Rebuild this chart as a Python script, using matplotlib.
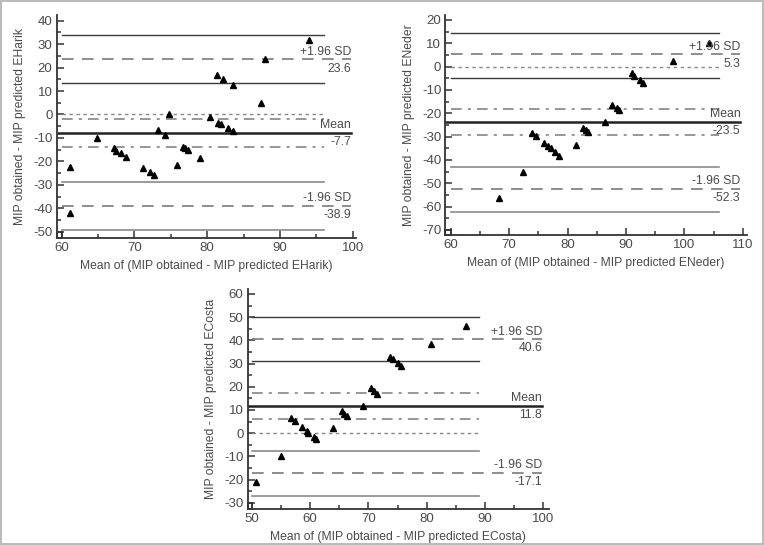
import matplotlib
matplotlib.use('Agg')
import matplotlib.pyplot as plt
from matplotlib.patches import Rectangle
from matplotlib.ticker import MultipleLocator

plt.rcParams['font.family'] = ['Liberation Sans', 'DejaVu Sans']
plt.rcParams['axes.unicode_minus'] = False

W, H = 764, 545

# --- EHarik ---
harik_x = [61.1, 61.1, 64.9, 67.2, 67.5, 68.2, 68.8, 71.2, 72.2, 72.7, 73.2, 74.2,
           74.7, 75.8, 76.7, 77.0, 77.3, 79.0, 80.4, 81.3, 81.5, 81.9, 82.2, 82.8,
           83.5, 83.6, 87.4, 88.0, 94.0]
harik_y = [-22.3, -42.1, -10.2, -14.3, -15.5, -16.5, -18.2, -22.7, -24.5, -25.8, -6.6, -8.7,
           0.4, -21.7, -13.8, -14.4, -15.1, -18.4, -1.2, 17.0, -3.5, -3.9, 15.3, -5.8,
           -7.0, 12.5, 5.0, 23.5, 31.7]
harik_stats = {'mean': -7.7, 'hi': 23.6, 'lo': -38.9}
harik_mean_ci = (-13.9, -1.9)
harik_hi_ci = (13.3, 33.9)
harik_lo_ci = (-49.3, -28.8)

# --- ENeder ---
neder_x = [68.2, 72.3, 73.9, 74.6, 76.0, 76.7, 77.1, 77.9, 78.5, 81.4, 82.7, 83.1,
           83.5, 86.5, 87.6, 88.4, 88.8, 91.0, 91.4, 92.4, 93.0, 98.1, 104.3]
neder_y = [-56.4, -45.0, -28.4, -29.8, -32.7, -34.1, -34.8, -36.5, -38.1, -33.7, -26.3, -27.3,
           -28.0, -23.7, -16.6, -17.6, -18.4, -2.8, -3.8, -5.7, -6.8, 2.6, 10.3]
neder_stats = {'mean': -23.5, 'hi': 5.3, 'lo': -52.3}
neder_mean_ci = (-29.4, -18.2)
neder_hi_ci = (-4.9, 14.3)
neder_lo_ci = (-62.2, -43.2)

# --- ECosta ---
costa_x = [50.7, 55.0, 56.7, 57.4, 58.7, 59.4, 59.7, 60.7, 61.1, 64.0, 65.4, 65.9,
           66.3, 69.0, 70.4, 71.0, 71.4, 73.7, 74.2, 75.1, 75.6, 80.7, 86.8]
costa_y = [-21.2, -9.9, 6.7, 5.4, 2.5, 1.0, 0.2, -1.6, -2.4, 2.1, 9.4, 8.2,
           7.4, 11.8, 19.3, 18.0, 17.0, 33.0, 32.0, 30.1, 29.0, 38.6, 46.4]
costa_stats = {'mean': 11.8, 'hi': 40.6, 'lo': -17.1}
costa_mean_ci = (5.9, 17.1)
costa_hi_ci = (31.1, 50.0)
costa_lo_ci = (-27.0, -7.7)

TXT = '#4a4a4a'
GRAY = '#7a7a7a'


def place(fig, xt, yt, xlim, ylim):
    # two known tick pixel positions per axis -> axes rectangle
    (px0, v0), (px1, v1) = xt
    sx = (px1 - px0) / (v1 - v0)
    left = px0 + (xlim[0] - v0) * sx
    right = px0 + (xlim[1] - v0) * sx
    (py0, w0), (py1, w1) = yt
    sy = (py1 - py0) / (w1 - w0)
    top = py0 + (ylim[1] - w0) * sy
    bottom = py0 + (ylim[0] - w0) * sy
    return fig.add_axes([left / W, 1 - bottom / H, (right - left) / W, (bottom - top) / H])


def bland_altman(ax, x, y, stats, mean_ci, hi_ci, lo_ci, xlim, ylim, xticks, yticks,
                 ci_end, txt_end, name):
    x0 = xticks[0]
    # confidence interval lines of the limits of agreement
    for v in hi_ci:
        ax.plot([x0, ci_end], [v, v], color='#3a3a3a', lw=1.0)
    for v in lo_ci:
        ax.plot([x0, ci_end], [v, v], color='#8a8a8a', lw=1.2)
    # CI of mean
    for v in mean_ci:
        ax.plot([x0, ci_end], [v, v], color=GRAY, lw=1.1, dashes=(7, 4, 2, 4))
    ax.plot([x0, ci_end], [0, 0], color='#888888', lw=1.0, dashes=(2.5, 2.5))
    # limits of agreement
    for k in ('hi', 'lo'):
        ax.plot([x0, txt_end], [stats[k]] * 2, color=GRAY, lw=1.2, dashes=(7, 5))
    ax.plot([xlim[0], txt_end], [stats['mean']] * 2, color='#222222', lw=1.8)

    ax.plot(x, y, linestyle='none', marker='^', ms=5, color='black')

    labels = {'hi': '+1.96 SD', 'mean': 'Mean', 'lo': '-1.96 SD'}
    for k, lab in labels.items():
        ax.annotate(lab, (txt_end, stats[k]), xytext=(0, 1), textcoords='offset points',
                    ha='right', va='bottom', fontsize=8.8, color=TXT)
        ax.annotate(f'{stats[k]:.1f}', (txt_end, stats[k]), xytext=(0, -2.5),
                    textcoords='offset points', ha='right', va='top', fontsize=8.8, color=TXT)

    ax.set_xlim(*xlim)
    ax.set_ylim(*ylim)
    ax.set_xticks(xticks)
    ax.set_yticks(yticks)
    ax.xaxis.set_minor_locator(MultipleLocator(5))
    ax.yaxis.set_minor_locator(MultipleLocator(5))
    ax.tick_params(which='both', direction='in', color='#333333', width=1.1,
                   labelsize=9.5, labelcolor=TXT, pad=3)
    ax.tick_params(which='major', length=5)
    ax.tick_params(which='minor', length=3)
    for s in ('top', 'right'):
        ax.spines[s].set_visible(False)
    for s in ('left', 'bottom'):
        ax.spines[s].set_color('#333333')
        ax.spines[s].set_linewidth(1.3)
    ax.patch.set_alpha(0)
    # little box at the axis origin
    ax.add_patch(Rectangle((xlim[0], ylim[0]), xticks[0] - xlim[0], yticks[0] - ylim[0],
                           fill=False, edgecolor='#333333', lw=1.2, clip_on=False))

    ax.set_xlabel(f'Mean of (MIP obtained - MIP predicted {name})', fontsize=8.7,
                  color=TXT, labelpad=4)
    ax.set_ylabel(f'MIP obtained - MIP predicted {name}', fontsize=8.7,
                  color=TXT, labelpad=5)


fig = plt.figure(figsize=(W / 100, H / 100), dpi=100)
fig.patch.set_edgecolor('#bbbbbb')
fig.patch.set_linewidth(1.5)

ax1 = place(fig, ((61.7, 60), (352.7, 100)), ((20.7, 40), (231.7, -50)),
            (59.3, 100.5), (-52.6, 42.4))
bland_altman(ax1, harik_x, harik_y, harik_stats, harik_mean_ci, harik_hi_ci, harik_lo_ci,
             (59.3, 100.5), (-52.6, 42.4), list(range(60, 101, 10)), list(range(-50, 41, 10)),
             96.0, 99.8, 'EHarik')

ax2 = place(fig, ((450.7, 60), (742.7, 110)), ((20.0, 20), (230.0, -70)),
            (59.1, 110.7), (-72.2, 22.2))
bland_altman(ax2, neder_x, neder_y, neder_stats, neder_mean_ci, neder_hi_ci, neder_lo_ci,
             (59.1, 110.7), (-72.2, 22.2), list(range(60, 111, 10)), list(range(-70, 21, 10)),
             106.0, 109.6, 'ENeder')

ax3 = place(fig, ((251.7, 50), (543.3, 100)), ((294.0, 60), (502.7, -30)),
            (49.3, 101.0), (-32.8, 62.0))
bland_altman(ax3, costa_x, costa_y, costa_stats, costa_mean_ci, costa_hi_ci, costa_lo_ci,
             (49.3, 101.0), (-32.8, 62.0), list(range(50, 101, 10)), list(range(-30, 61, 10)),
             89.0, 99.8, 'ECosta')

fig.savefig('out.png', dpi=100)
